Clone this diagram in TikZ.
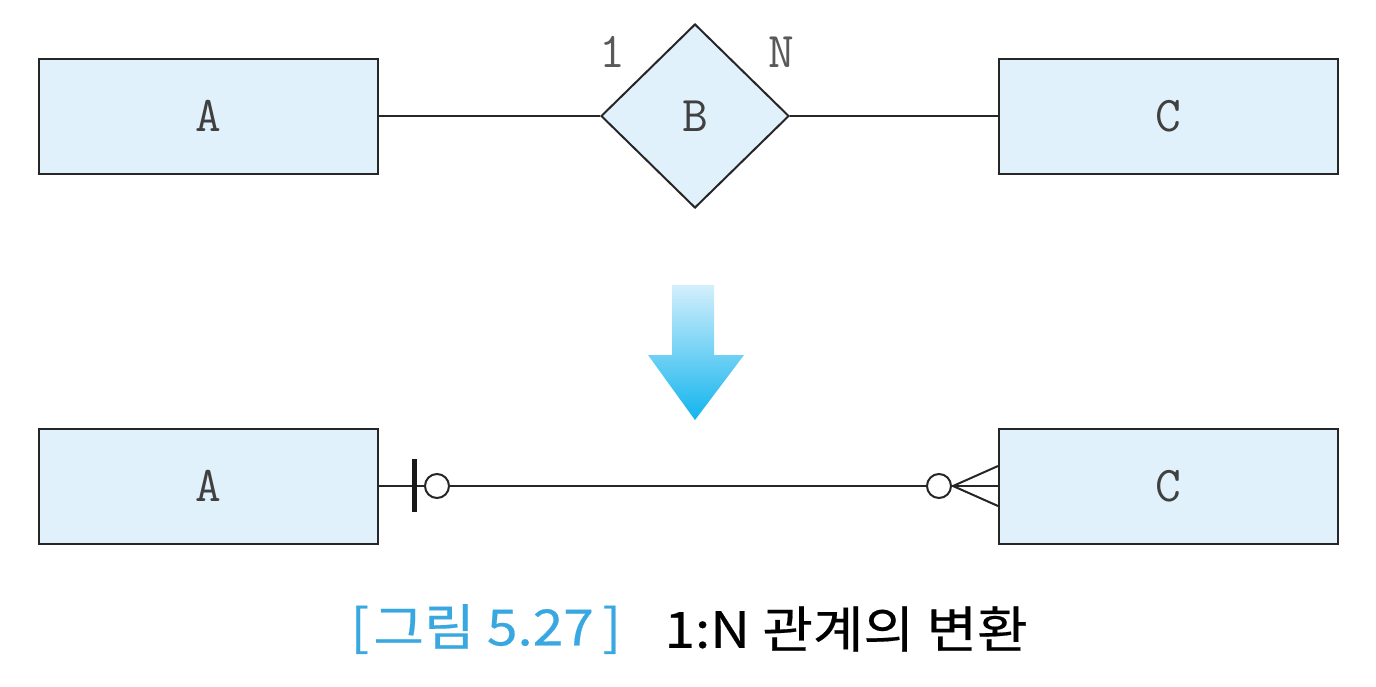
\documentclass[tikz,border=0pt]{standalone}
\usepackage{fontspec}
\newfontfamily\krfont[FakeBold=0.4]{Noto Sans CJK KR}
\usetikzlibrary{shapes.geometric,positioning,calc}

\definecolor{boxfill}{HTML}{E1F1FB}
\definecolor{capblue}{HTML}{3AA8E0}
\definecolor{arrtop}{HTML}{D3EFFC}
\definecolor{arrbot}{HTML}{12B4EE}

\begin{document}
\begin{tikzpicture}[
  x=0.5pt, y=-0.5pt,
  entity/.style={rectangle, draw=black!85, line width=1pt, fill=boxfill,
                 minimum width=169.5pt, minimum height=57.5pt, inner sep=0,
                 font=\ttfamily\fontsize{25}{25}\selectfont, text=black!75},
  rel/.style={diamond, draw=black!85, line width=1pt, fill=boxfill,
              minimum width=94pt, minimum height=92pt, inner sep=0,
              font=\ttfamily\fontsize{25}{25}\selectfont, text=black!75},
  card/.style={font=\ttfamily\fontsize{25}{25}\selectfont, text=black!65, inner sep=0},
  link/.style={draw=black!85, line width=1pt},
  ring/.style={circle, draw=black!85, line width=1pt, fill=white, minimum size=12pt, inner sep=0},
  caption/.style={anchor=west, inner sep=0, xscale=1.1, font=\krfont\fontsize{25}{25}\selectfont},
]
\useasboundingbox (0,0) rectangle (1376,686);

% E-R diagram
\node[entity] (a1) at (208.5,116) {A};
\node[entity] (c1) at (1168.5,116) {C};
\node[rel]    (b)  at (695,116) {B};
\node[card]   (one) at (612,52) {1};
\node[card]   (many) at (781,52) {N};

\draw[link] (a1.east) -- (b.west);
\draw[link] (b.east) -- (c1.west);

% transform arrow
\shade[top color=arrtop, bottom color=arrbot]
  (672,285) -- (714,285) -- (714,355) -- (744,355) -- (695,420)
  -- (648,355) -- (672,355) -- cycle;

% relational form
\node[entity] (a2) at (208.5,486) {A};
\node[entity] (c2) at (1168.5,486) {C};

\coordinate (bar)  at ($(a2.east)+(35,0)$);
\node[ring] (o1) at ($(a2.east)+(58,0)$) {};
\node[ring] (o2) at ($(c2.west)+(-59,0)$) {};
\coordinate (foot) at ($(c2.west)+(-45,0)$);

\draw[link] (a2.east) -- (o1.west);
\draw[link] (o1.east) -- (o2.west);
\draw[link] (o2.east) -- (c2.west);
\draw[black!90, line width=2.5pt] ($(bar)+(0,-27)$) -- ($(bar)+(0,26)$);
\draw[link] (foot) -- ($(c2.west)+(0,-20)$);
\draw[link] (foot) -- ($(c2.west)+(0,20)$);

% caption
\node[caption, text=capblue] (fig) at (350,629) {[\kern2pt그림 5.27\kern4pt]};
\node[caption] (title) at (664,629) {1:N 관계의 변환};

\end{tikzpicture}
\end{document}
